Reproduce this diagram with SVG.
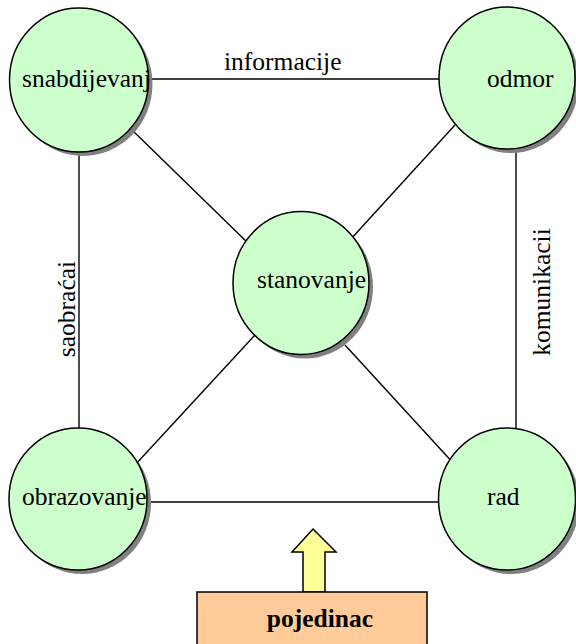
<svg xmlns="http://www.w3.org/2000/svg" width="576" height="644" viewBox="0 0 576 644">
<style>
.shadow{fill:#808080;stroke:none}
.node{fill:#CCFFCC;stroke:#000;stroke-width:1.5}
.lbl{font-family:'Liberation Serif','Times New Roman',Tinos,'DejaVu Serif',serif;font-size:25.5px;fill:#000}
.conn line{stroke:#000;stroke-width:1.4}
</style>
<rect width="576" height="644" fill="#fff"/>
<g id="connectors" class="conn">
<line x1="150" y1="79" x2="440" y2="79"/>
<line x1="79" y1="150" x2="79" y2="430"/>
<line x1="516" y1="148" x2="516" y2="430"/>
<line x1="150" y1="502" x2="440" y2="502"/>
<line x1="130" y1="128" x2="250" y2="245"/>
<line x1="455" y1="125" x2="350" y2="240"/>
<line x1="255" y1="335" x2="135" y2="465"/>
<line x1="345" y1="345" x2="455" y2="465"/>
</g>
<g id="label-informacije"><text class="lbl" font-family="Liberation Serif, serif" x="224" y="70">informacije</text></g>
<g id="label-saobracai"><text class="lbl" font-family="Liberation Serif, serif" transform="translate(75,309) rotate(-90)" text-anchor="middle">saobraćai</text></g>
<g id="label-komunikacii"><text class="lbl" font-family="Liberation Serif, serif" transform="translate(550,292) rotate(-90)" text-anchor="middle">komunikacii</text></g>
<g id="snabdijevanj">
<ellipse class="shadow" cx="83" cy="84" rx="69.5" ry="72"/>
<ellipse class="node" cx="79" cy="80" rx="69.5" ry="72"/>
<text class="lbl" font-family="Liberation Serif, serif" x="22" y="87">snabdijevanj</text>
</g>
<g id="odmor">
<ellipse class="shadow" cx="511" cy="82" rx="68" ry="71"/>
<ellipse class="node" cx="507" cy="78" rx="68" ry="71"/>
<text class="lbl" font-family="Liberation Serif, serif" x="487" y="87">odmor</text>
</g>
<g id="stanovanje">
<ellipse class="shadow" cx="305" cy="287" rx="68" ry="71.5"/>
<ellipse class="node" cx="301" cy="283" rx="68" ry="71.5"/>
<text class="lbl" font-family="Liberation Serif, serif" x="257" y="288">stanovanje</text>
</g>
<g id="obrazovanje">
<ellipse class="shadow" cx="82" cy="503" rx="69" ry="71"/>
<ellipse class="node" cx="78" cy="499" rx="69" ry="71"/>
<text class="lbl" font-family="Liberation Serif, serif" x="22" y="505">obrazovanje</text>
</g>
<g id="rad">
<ellipse class="shadow" cx="511" cy="503" rx="68.5" ry="71"/>
<ellipse class="node" cx="507" cy="499" rx="68.5" ry="71"/>
<text class="lbl" font-family="Liberation Serif, serif" x="487" y="505">rad</text>
</g>
<g id="arrow">
<polygon points="313,529 336,552 325,552 325,592 303,592 303,552 292,552" fill="#FFFF99" stroke="#000" stroke-width="1.5"/>
</g>
<g id="pojedinac">
<rect x="197" y="592" width="230" height="60" fill="#FFCC99" stroke="#000" stroke-width="1.5"/>
<text class="lbl" font-family="Liberation Serif, serif" x="320" y="627" text-anchor="middle" font-weight="bold">pojedinac</text>
</g>
</svg>
